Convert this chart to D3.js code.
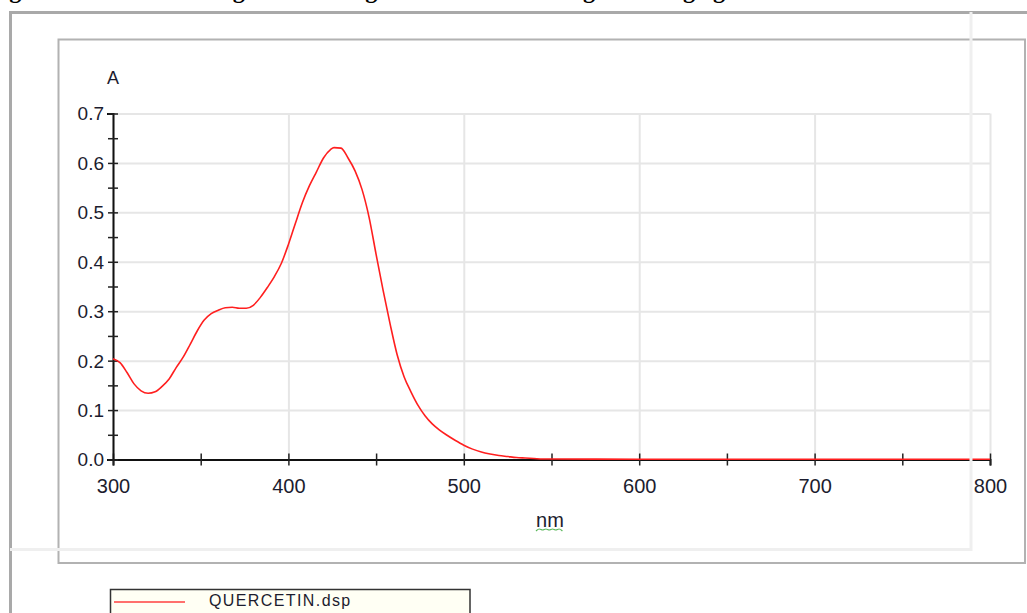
<!DOCTYPE html>
<html>
<head>
<meta charset="utf-8">
<script src="https://cdn.jsdelivr.net/npm/d3@7"></script>
<style>
  body { margin: 0; background: #fff; }
  svg { display: block; font-family: "Liberation Sans", Arial, sans-serif; }
  .grid line { stroke: #e6e6e6; stroke-width: 2; }
  .grid path { display: none; }
</style>
</head>
<body>
<svg width="1027" height="613"></svg>
<script>
// spectrum: wavelength (nm) and absorbance (A)
const wavelengths = [300, 304, 308, 312, 316, 320, 324, 328, 332, 336, 340, 344, 348, 352, 356, 360,
  364, 368, 372, 376, 380, 384, 388, 392, 396, 400, 404, 408, 412, 416, 420, 424, 426, 430, 434,
  438, 442, 446, 450, 454, 458, 462, 466, 470, 474, 478, 482, 486, 490, 495, 500, 505, 510, 515,
  520, 525, 530, 535, 540, 545, 550, 600, 650, 700, 750, 800];
const absorbance = [0.204, 0.196, 0.176, 0.153, 0.139, 0.134, 0.137, 0.148, 0.163, 0.186, 0.207,
  0.233, 0.260, 0.282, 0.295, 0.302, 0.307, 0.308, 0.306, 0.306, 0.312, 0.328, 0.348, 0.370, 0.397,
  0.435, 0.478, 0.520, 0.554, 0.582, 0.610, 0.627, 0.631, 0.630, 0.610, 0.584, 0.546, 0.490,
  0.415, 0.342, 0.274, 0.212, 0.167, 0.136, 0.109, 0.088, 0.072, 0.060, 0.050, 0.039, 0.029,
  0.021, 0.015, 0.011, 0.008, 0.006, 0.004, 0.003, 0.002, 0.001, 0.001, 0.0005, 0.0005, 0.0005,
  0.0005, 0.0005];
const xTicks = [300, 350, 400, 450, 500, 550, 600, 650, 700, 750, 800];
const yTicks = [0, 0.05, 0.1, 0.15, 0.2, 0.25, 0.3, 0.35, 0.4, 0.45, 0.5, 0.55, 0.6, 0.65, 0.7];
const seriesName = 'QUERCETIN.dsp';
const caption = 'Figure 4: UV Chromatogram showing flavonoid after using revealing agent.';

const data = wavelengths.map((w, i) => ({ nm: w, a: absorbance[i] }));

const svg = d3.select('svg');

// caption of the page above the figure, cut off by the crop
svg.append('text')
  .attr('x', -12).attr('y', -2)
  .attr('font-family', '"Liberation Serif", "Times New Roman", serif')
  .attr('font-weight', 'bold')
  .attr('font-size', 24)
  .text(caption);

// outer frame (runs off right and bottom)
svg.append('path')
  .attr('d', 'M10.5,613 V12.5 H1027')
  .attr('fill', 'none').attr('stroke', '#a9a9a9').attr('stroke-width', 3);

// inner frame
svg.append('rect')
  .attr('x', 58.5).attr('y', 39.5).attr('width', 966.5).attr('height', 523.5)
  .attr('fill', 'none').attr('stroke', '#b2b2b2').attr('stroke-width', 2);

const x = d3.scaleLinear().domain([300, 800]).range([113, 990]);
const y = d3.scaleLinear().domain([0, 0.7]).range([459.5, 113.5]);

// grid lines
svg.append('g')
  .attr('class', 'grid')
  .attr('transform', `translate(0, ${y(0)})`)
  .call(d3.axisBottom(x).tickValues(xTicks.filter(d => d % 100 === 0))
    .tickSize(-(y(0) - y(0.7))).tickFormat(''));
svg.append('g')
  .attr('class', 'grid')
  .attr('transform', `translate(${x(300)}, 0)`)
  .call(d3.axisLeft(y).tickValues(yTicks.filter((d, i) => i % 2 === 0))
    .tickSize(-(x(800) - x(300))).tickFormat(''));

// x axis
const xAxis = svg.append('g')
  .attr('transform', `translate(0, ${y(0)})`)
  .call(d3.axisBottom(x).tickValues(xTicks)
    .tickFormat(d => d % 100 === 0 ? d : ''));
xAxis.select('.domain').attr('stroke', '#111').attr('stroke-width', 2);
xAxis.selectAll('.tick line').attr('y1', -6).attr('y2', 6).attr('stroke', '#222').attr('stroke-width', 1.5);
xAxis.selectAll('.tick text')
  .attr('y', 33).attr('dy', 0)
  .attr('font-size', 20).attr('fill', '#1c1c2e');

// y axis
const yAxis = svg.append('g')
  .attr('transform', `translate(${x(300)}, 0)`)
  .call(d3.axisLeft(y).tickValues(yTicks)
    .tickFormat((d, i) => i % 2 === 0 ? d3.format('.1f')(d) : ''));
yAxis.select('.domain').attr('stroke', '#111').attr('stroke-width', 2);
yAxis.selectAll('.tick line').attr('x1', -5).attr('x2', 5).attr('stroke', '#222').attr('stroke-width', 1.5);
yAxis.selectAll('.tick text')
  .attr('x', -9).attr('dy', '0.34em')
  .attr('font-size', 19).attr('fill', '#1c1c2e');

// axis titles
svg.append('text')
  .attr('x', 113).attr('y', 84)
  .attr('text-anchor', 'middle')
  .attr('font-size', 18).attr('fill', '#1c1c2e')
  .text('A');
svg.append('text')
  .attr('x', 550).attr('y', 527)
  .attr('text-anchor', 'middle')
  .attr('font-size', 20).attr('fill', '#1c1c2e')
  .text('nm');
// spell-check squiggle under "nm"
const squiggle = d3.range(0, 9).map(i => [536 + i * 3.3, i % 2 === 0 ? 531 : 528]);
svg.append('path')
  .attr('d', d3.line().curve(d3.curveBasis)(squiggle))
  .attr('fill', 'none').attr('stroke', '#5cb85c').attr('stroke-width', 1.2);

// spectrum
svg.append('path')
  .datum(data)
  .attr('fill', 'none')
  .attr('stroke', '#ff1f1f')
  .attr('stroke-width', 1.6)
  .attr('d', d3.line()
    .x(d => x(d.nm))
    .y(d => y(d.a))
    .curve(d3.curveMonotoneX));

// faint frame from the page behind, drawn on top
svg.append('path')
  .attr('d', 'M10,549.5 H971 V12')
  .attr('fill', 'none').attr('stroke', '#efefef').attr('stroke-width', 3);

// legend
const legend = svg.append('g');
legend.append('rect')
  .attr('x', 110.5).attr('y', 589.5).attr('width', 359.5).attr('height', 40)
  .attr('fill', '#fffff4').attr('stroke', '#333').attr('stroke-width', 1.5);
legend.append('line')
  .attr('x1', 114).attr('x2', 185).attr('y1', 602).attr('y2', 602)
  .attr('stroke', '#ff4040').attr('stroke-width', 1.6);
legend.append('text')
  .attr('x', 209).attr('y', 606)
  .attr('font-size', 16).attr('letter-spacing', 1.4).attr('fill', '#1c1c2e')
  .text(seriesName);
</script>
</body>
</html>
